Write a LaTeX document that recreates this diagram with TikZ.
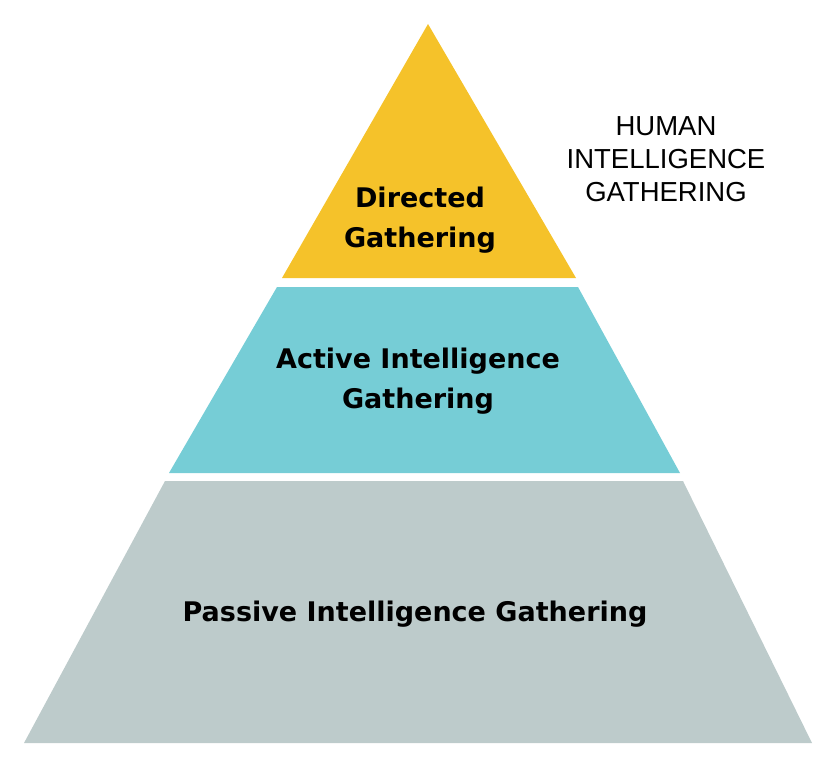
\documentclass[tikz,border=0pt]{standalone}
\usepackage{fontspec}
\setmainfont{Liberation Sans}
\newfontfamily\tierfont{DejaVu Sans}
\usepackage{tikz}
\usetikzlibrary{positioning}

\definecolor{directedyellow}{RGB}{245,194,42}
\definecolor{activeteal}{RGB}{118,205,214}
\definecolor{passivegrey}{RGB}{189,203,203}

\tikzset{
  tier/.style={font=\tierfont\bfseries\fontsize{27}{40}\selectfont, align=center, inner sep=0pt},
  side/.style={font=\fontsize{27.5}{33}\selectfont, align=center, inner sep=0pt}
}

\begin{document}
\begin{tikzpicture}[x=1pt,y=-1pt]
  \useasboundingbox (0,0) rectangle (837,768);

  % Draw the pyramid layers
  \fill[directedyellow] (428,24) -- (576,278) -- (282,278) -- cycle;
  \fill[activeteal] (277,287) -- (578,287) -- (680,473) -- (169,473) -- cycle;
  \fill[passivegrey] (165,481) -- (683,481) -- (812,743) -- (24,743) -- cycle;

  % Labels
  \node[tier] (directed) at (420,220) {Directed\\Gathering};
  \node[tier] (active) at (418,381) {Active Intelligence\\Gathering};
  \node[tier, anchor=base] (passive) at (415,621) {Passive Intelligence Gathering};
  \node[side] (human) at (666,159) {HUMAN\\INTELLIGENCE\\GATHERING};
\end{tikzpicture}
\end{document}
